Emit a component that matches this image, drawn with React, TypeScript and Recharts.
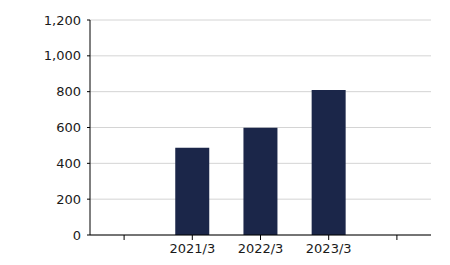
import React from "react";
import { BarChart, Bar, XAxis, YAxis, CartesianGrid } from "recharts";

const periods = ["", "2021/3", "2022/3", "2023/3", ""];
const values: (number | null)[] = [null, 487, 598, 810, null];
const yTicks = [0, 200, 400, 600, 800, 1000, 1200];

const data = periods.map((p, i) => ({ period: p, value: values[i] }));

const font = { fontFamily: "DejaVu Sans, Verdana, sans-serif", fontSize: 13, fill: "#1a1a1a" };

export default function App() {
  return (
    <div style={{ position: "absolute", left: 0, top: 0, width: 450, height: 265, background: "#fff" }}>
      <BarChart
        width={450}
        height={265}
        data={data}
        margin={{ top: 20, right: 19, left: 0, bottom: 0 }}
        barCategoryGap="25%"
      >
        <CartesianGrid vertical={false} stroke="#d4d4d4" strokeWidth={1} />
        <XAxis
          dataKey="period"
          height={30}
          tick={font}
          tickSize={5}
          tickMargin={4}
          axisLine={{ stroke: "#000" }}
          tickLine={{ stroke: "#000" }}
          interval={0}
        />
        <YAxis
          width={90}
          domain={[0, 1200]}
          ticks={yTicks}
          tick={font}
          tickSize={3}
          tickMargin={6}
          axisLine={{ stroke: "#000" }}
          tickLine={{ stroke: "#000" }}
          tickFormatter={(v: number) => v.toLocaleString("en-US")}
        />
        <Bar dataKey="value" fill="#1b2649" isAnimationActive={false} />
      </BarChart>
    </div>
  );
}
